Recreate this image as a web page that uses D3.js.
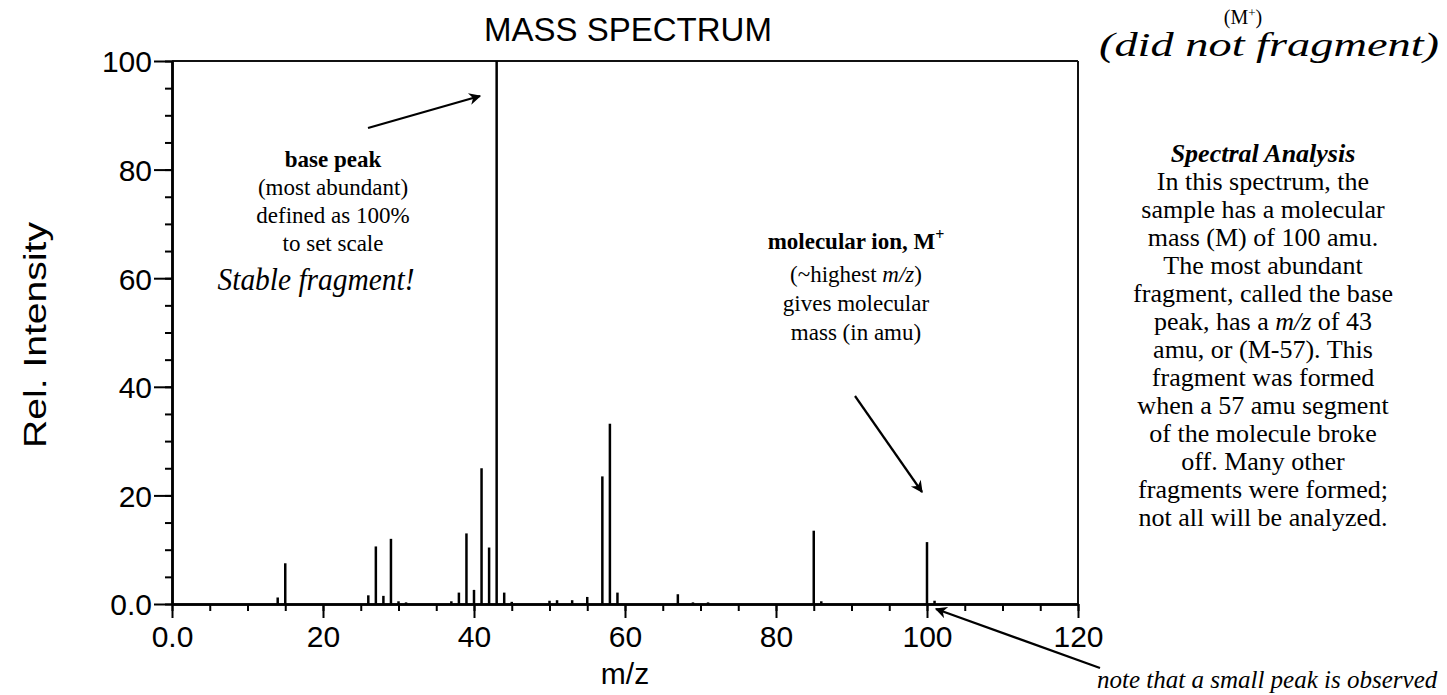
<!DOCTYPE html>
<html>
<head>
<meta charset="utf-8">
<script src="https://cdn.jsdelivr.net/npm/d3@7"></script>
<style>
  html, body { margin: 0; padding: 0; background: #fff; }
  svg { display: block; }
</style>
</head>
<body>
<svg id="chart" width="1447" height="695"></svg>
<script>
// ---- data ----
const mzValues = [14, 15, 26, 27, 28, 29, 30, 31, 37, 38, 39, 40, 41, 42, 43, 44, 45, 50, 51, 53, 55, 57, 58, 59, 67, 69, 71, 85, 86, 100, 101];
const relIntensity = [1.2, 7.5, 1.6, 10.6, 1.5, 12.0, 0.5, 0.3, 0.5, 2.1, 13.0, 2.6, 25.0, 10.4, 100, 2.1, 0.4, 0.6, 0.7, 0.7, 1.3, 23.5, 33.2, 2.1, 1.8, 0.3, 0.3, 13.5, 0.5, 11.4, 0.6];
const xMajorTicks = [0, 20, 40, 60, 80, 100, 120];
const yMajorTicks = [0, 20, 40, 60, 80, 100];
const xTickLabels = ["0.0", "20", "40", "60", "80", "100", "120"];
const yTickLabels = ["0.0", "20", "40", "60", "80", "100"];
const titleText = "MASS SPECTRUM";
const xLabel = "m/z";
const yLabel = "Rel. Intensity";
const basePeakLines = ["(most abundant)", "defined as 100%", "to set scale"];
const molIonLines = ["gives molecular", "mass (in amu)"];
const analysisLines = ["In this spectrum, the", "sample has a molecular", "mass (M) of 100 amu.", "The most abundant", "fragment, called the base", "PEAKLINE", "amu, or (M-57).  This", "fragment was formed", "when a 57 amu segment", "of the molecule broke", "off.  Many other", "fragments were formed;", "not all will be analyzed."];

// ---- layout ----
const svg = d3.select("#chart");
const x = d3.scaleLinear().domain([0, 120]).range([172, 1078]);
const y = d3.scaleLinear().domain([0, 100]).range([604, 61]);
const sans = "'Liberation Sans', Arial, Helvetica, sans-serif";
const serif = "'Liberation Serif', 'Times New Roman', Times, serif";

// frame (top and right)
svg.append("line").attr("x1", x(0)).attr("x2", x(120)).attr("y1", y(100)).attr("y2", y(100))
  .attr("stroke", "#111").attr("stroke-width", 2);
svg.append("line").attr("x1", x(120)).attr("x2", x(120)).attr("y1", y(100)).attr("y2", y(0))
  .attr("stroke", "#111").attr("stroke-width", 2);

// peaks
svg.append("g").selectAll("line").data(mzValues).join("line")
  .attr("x1", d => x(d)).attr("x2", d => x(d))
  .attr("y1", y(0)).attr("y2", (d, i) => y(relIntensity[i]))
  .attr("stroke", "#000").attr("stroke-width", 2.5);

// x axis
svg.append("g").attr("transform", `translate(0,${y(0)})`)
  .call(d3.axisBottom(x).tickValues(d3.range(0, 121, 5)).tickSize(7).tickSizeOuter(0).tickFormat(""));
const gx = svg.append("g").attr("transform", `translate(0,${y(0)})`)
  .call(d3.axisBottom(x).tickValues(xMajorTicks).tickSize(14).tickSizeOuter(0)
    .tickFormat((d, i) => xTickLabels[i]));
gx.selectAll("text").attr("y", 43).attr("dy", 0)
  .style("font-family", sans).style("font-size", "30px").attr("fill", "#000");

// y axis
svg.append("g").attr("transform", `translate(${x(0)},0)`)
  .call(d3.axisLeft(y).tickValues(d3.range(0, 101, 5)).tickSize(7).tickSizeOuter(0).tickFormat(""));
const gy = svg.append("g").attr("transform", `translate(${x(0)},0)`)
  .call(d3.axisLeft(y).tickValues(yMajorTicks).tickSize(18).tickSizeOuter(0)
    .tickFormat((d, i) => yTickLabels[i]));
gy.selectAll("text").attr("x", -20).attr("dy", "0.36em")
  .style("font-family", sans).style("font-size", "30px").attr("fill", "#000");

svg.selectAll(".domain").attr("stroke", "#000").attr("stroke-width", 2.5);
svg.selectAll(".tick line").attr("stroke", "#000").attr("stroke-width", 2);

// title & labels
svg.append("text").attr("x", 628).attr("y", 41).attr("text-anchor", "middle")
  .style("font-family", sans).style("font-size", "33px").text(titleText);
svg.append("text").attr("x", 625).attr("y", 684).attr("text-anchor", "middle")
  .style("font-family", sans).style("font-size", "30px").text(xLabel);
svg.append("text").attr("transform", "translate(46,335) rotate(-90)").attr("text-anchor", "middle")
  .style("font-family", sans).style("font-size", "31px")
  .attr("textLength", 226).attr("lengthAdjust", "spacingAndGlyphs").text(yLabel);

// arrow marker
const defs = svg.append("defs");
defs.append("marker").attr("id", "ah").attr("viewBox", "0 0 10 10").attr("refX", 9).attr("refY", 5)
  .attr("markerWidth", 22).attr("markerHeight", 12).attr("markerUnits", "userSpaceOnUse")
  .attr("orient", "auto")
  .append("path").attr("d", "M0,0 L10,5 L0,10 L3,5 Z").attr("fill", "#000");

function arrow(x1, y1, x2, y2) {
  svg.append("line").attr("x1", x1).attr("y1", y1).attr("x2", x2).attr("y2", y2)
    .attr("stroke", "#000").attr("stroke-width", 2.2).attr("marker-end", "url(#ah)");
}

// base peak annotation
const bx = 333;
svg.append("text").attr("x", bx).attr("y", 167).attr("text-anchor", "middle")
  .style("font-family", serif).style("font-size", "23px").style("font-weight", "bold").text("base peak");
basePeakLines.forEach((t, i) => {
  svg.append("text").attr("x", bx).attr("y", 195 + i * 28).attr("text-anchor", "middle")
    .style("font-family", serif).style("font-size", "23px").text(t);
});
svg.append("text").attr("x", 316).attr("y", 290).attr("text-anchor", "middle")
  .style("font-family", serif).style("font-style", "italic").style("font-size", "31px")
  .attr("textLength", 197).attr("lengthAdjust", "spacingAndGlyphs").text("Stable fragment!");
arrow(368, 128, 480, 96);

// molecular ion annotation
const mx = 856;
const mt = svg.append("text").attr("x", mx).attr("y", 249).attr("text-anchor", "middle")
  .style("font-family", serif).style("font-size", "23px").style("font-weight", "bold");
mt.append("tspan").text("molecular ion, M");
mt.append("tspan").attr("dy", -9).style("font-size", "16px").text("+");
const ht = svg.append("text").attr("x", mx).attr("y", 282).attr("text-anchor", "middle")
  .style("font-family", serif).style("font-size", "23px");
ht.append("tspan").text("(~highest ");
ht.append("tspan").style("font-style", "italic").text("m/z");
ht.append("tspan").text(")");
molIonLines.forEach((t, i) => {
  svg.append("text").attr("x", mx).attr("y", 311 + i * 29).attr("text-anchor", "middle")
    .style("font-family", serif).style("font-size", "23px").text(t);
});
arrow(855, 396, 922, 492);

// right panel
const rx = 1263;
svg.append("text").attr("x", rx + 6).attr("y", 56).attr("text-anchor", "middle")
  .style("font-family", serif).style("font-style", "italic").style("font-size", "34px")
  .attr("textLength", 340).attr("lengthAdjust", "spacingAndGlyphs").text("(did not fragment)");
const mp = svg.append("text").attr("x", 1243).attr("y", 24).attr("text-anchor", "middle")
  .style("font-family", serif).style("font-size", "20px");
mp.append("tspan").text("(M");
mp.append("tspan").attr("dy", -7).style("font-size", "13px").text("+");
mp.append("tspan").attr("dy", 7).text(")");

svg.append("text").attr("x", rx).attr("y", 162).attr("text-anchor", "middle")
  .style("font-family", serif).style("font-size", "26px").style("font-weight", "bold").style("font-style", "italic")
  .text("Spectral Analysis");
analysisLines.forEach((t, i) => {
  const tx = svg.append("text").attr("x", rx).attr("y", 190 + i * 28).attr("text-anchor", "middle")
    .style("font-family", serif).style("font-size", "26px");
  if (t === "PEAKLINE") {
    tx.append("tspan").text("peak, has a ");
    tx.append("tspan").style("font-style", "italic").text("m/z");
    tx.append("tspan").text(" of 43");
  } else {
    tx.text(t);
  }
});

// bottom note
svg.append("text").attr("x", 1097).attr("y", 688)
  .style("font-family", serif).style("font-style", "italic").style("font-size", "25px")
  .text("note that a small peak is observed");
arrow(1100, 668, 936, 609);
</script>
</body>
</html>
